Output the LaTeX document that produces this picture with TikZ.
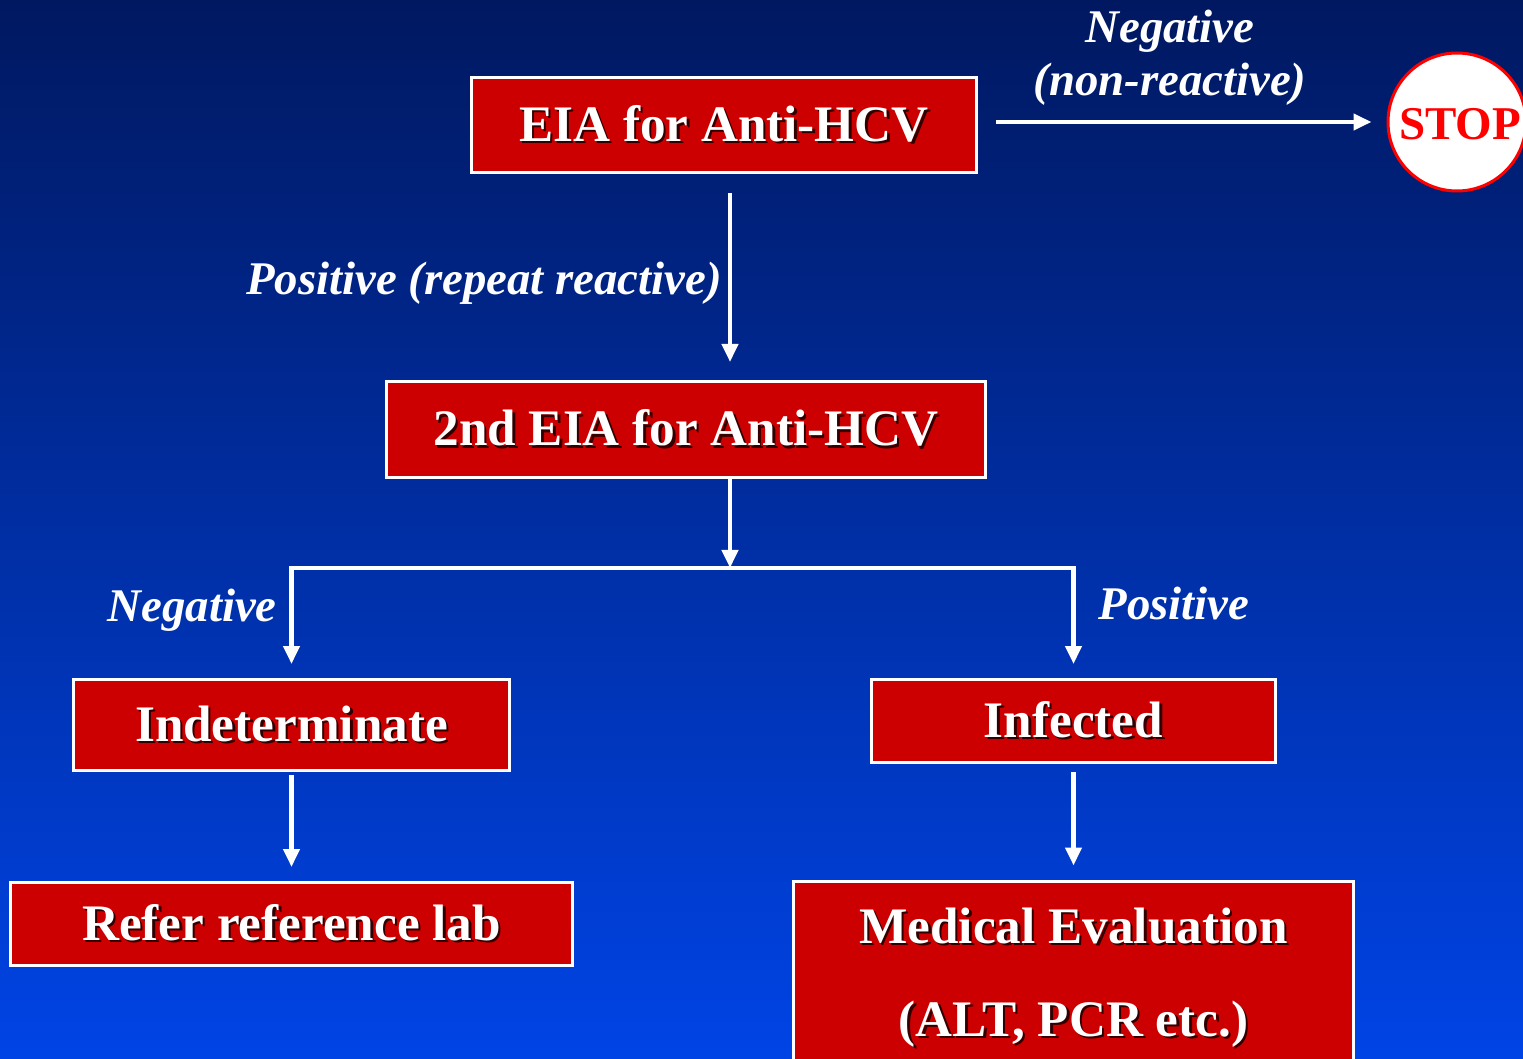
\documentclass[tikz,border=0pt]{standalone}
\usepackage{fontspec}
\setmainfont{Liberation Serif}
\usetikzlibrary{arrows.meta,calc}
\definecolor{boxred}{RGB}{204,0,0}
\definecolor{stopred}{RGB}{255,0,0}
\definecolor{bgtop}{RGB}{0,24,96}
\definecolor{bgmid}{RGB}{0,50,196}
\definecolor{bgbot}{RGB}{0,68,230}
\definecolor{shadowc}{RGB}{50,0,0}
\newcommand\shd[1]{\leavevmode\rlap{\kern1.2pt\raisebox{-1.2pt}{\color{shadowc}#1}}#1}
\tikzset{
  redbox/.style={draw=white, line width=1.5pt, fill=boxred, inner sep=0pt,
    text=white, font=\fontsize{25.6pt}{31pt}\selectfont\bfseries},
  boxtext/.style={inner sep=0pt, text=white, font=\fontsize{25.6pt}{31pt}\selectfont\bfseries},
  lab/.style={inner sep=0pt, text=white, font=\fontsize{23.4pt}{27pt}\selectfont\bfseries\itshape},
  arr/.style={draw=white, line width=2.2pt, -{Triangle[length=9pt,width=8pt]}},
}
\begin{document}
\begin{tikzpicture}[x=0.5pt,y=-0.5pt]
\useasboundingbox (0,0) rectangle (1523,1059);
\clip (0,0) rectangle (1523,1059);
\shade[top color=bgtop, middle color=bgmid, bottom color=bgbot] (0,0) rectangle (1523,1059);

% boxes
\node[redbox, minimum width=252.5pt, minimum height=47.5pt] (b1) at (724,125) {\shd{EIA for Anti-HCV}};
\node[redbox, minimum width=299.5pt, minimum height=48pt] (b2) at (686,429.5) {\shd{2nd EIA for Anti-HCV}};
\node[redbox, minimum width=218pt, minimum height=45.5pt] (b3) at (291.5,725) {\shd{Indeterminate}};
\node[redbox, minimum width=202pt, minimum height=41.5pt] (b4) at (1073.5,721) {\shd{Infected}};
\node[redbox, minimum width=281pt, minimum height=41.5pt] (b5) at (291.5,924) {\shd{Refer reference lab}};
\node[redbox, minimum width=280pt, minimum height=130pt] (b6) at (1073.5,1011) {};
\node[boxtext, anchor=base] (b6a) at (1073.5,943) {\shd{Medical Evaluation}};
\node[boxtext, anchor=base] (b6b) at (1073.5,1036) {\shd{(ALT, PCR etc.)}};

% stop
\node[circle, draw=stopred, line width=1.5pt, fill=white, minimum size=69pt, inner sep=0pt] (stop) at (1457,122) {};
\node[inner sep=0pt, text=stopred, font=\fontsize{23.5pt}{27pt}\selectfont\bfseries] (stoptext) at (1460,124) {STOP};

% labels
\node[lab, anchor=base] (ln1) at (1170,43) {Negative};
\node[lab, anchor=base] (ln2) at (1170,96) {(non-reactive)};
\node[lab, anchor=base east] (lp1) at (722,295) {Positive (repeat reactive)};
\node[lab, anchor=base east] (ln3) at (277,622) {Negative};
\node[lab, anchor=base west] (lp2) at (1098,619) {Positive};

% connectors
\coordinate (c730) at (730,0);
\coordinate (split) at (730,568);
\draw[arr, shorten <=9pt, shorten >=7.5pt] (b1.east |- stop.center) -- (stop.west);
\draw[arr, shorten <=9.5pt, shorten >=9pt] (b1.south -| c730) -- (b2.north -| c730);
\draw[arr] (b2.south -| c730) -- (split);
\draw[arr, shorten >=7pt] (split) -| (b3.north);
\draw[arr, shorten >=7pt] (split) -| (b4.north);
\draw[arr, shorten <=1.5pt, shorten >=7pt] (b3.south) -- (b5.north);
\draw[arr, shorten <=4pt, shorten >=7pt] (b4.south) -- (b6.north);
\end{tikzpicture}
\end{document}
